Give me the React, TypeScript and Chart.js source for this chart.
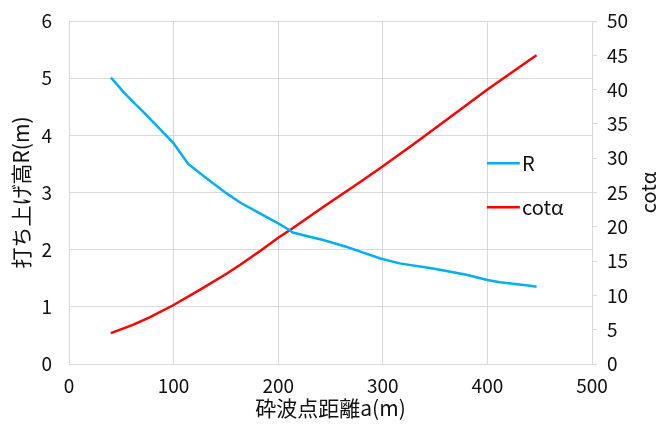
import React, { useEffect, useRef } from "react";
import { Chart, registerables } from "chart.js";

Chart.register(...registerables);

// Series R (left axis): distance a (m) and run-up height R (m)
const rDistance = [40, 44, 52, 61, 71, 87, 100, 114, 132, 151, 164, 179, 200, 211, 214, 234, 243, 265, 278, 297, 316, 348, 380, 400, 412, 441, 447];
const rValues = [5.01, 4.93, 4.76, 4.59, 4.41, 4.11, 3.86, 3.5, 3.24, 2.98, 2.82, 2.67, 2.46, 2.34, 2.3, 2.21, 2.17, 2.05, 1.97, 1.85, 1.76, 1.67, 1.56, 1.47, 1.43, 1.37, 1.35];

// Series cotα (right axis)
const cotDistance = [40, 61, 77, 100, 125, 151, 163, 183, 200, 211, 243, 278, 297, 329, 361, 400, 441, 447];
const cotValues = [4.5, 5.7, 6.8, 8.6, 10.8, 13.2, 14.4, 16.5, 18.4, 19.5, 22.9, 26.5, 28.5, 32.0, 35.6, 40.0, 44.4, 45.0];

const seriesLabels = ["R", "cotα"];
const seriesColors = ["#00B0F0", "#FF0000"];

const xTitle = "砕波点距離a(m)";
const yLeftTitle = "打ち上げ高R(m)";
const yRightTitle = "cotα";

const FONT = "'Noto Sans CJK JP', 'Noto Sans', sans-serif";
const TEXT = "#111111";
const GRID = "#d9d9d9";

export default function App() {
  const ref = useRef<HTMLCanvasElement>(null);

  useEffect(() => {
    if (!ref.current) return;

    const overlay = {
      id: "overlay",
      afterDraw(chart: any) {
        const { ctx, chartArea } = chart;
        const w = chartArea.right - chartArea.left;
        const h = chartArea.bottom - chartArea.top;
        ctx.save();
        ctx.font = `20px ${FONT}`;
        ctx.fillStyle = TEXT;
        ctx.textBaseline = "middle";
        ctx.textAlign = "left";
        const ys = [0.4145, 0.5427];
        seriesLabels.forEach((lab, i) => {
          const y = chartArea.top + ys[i] * h;
          ctx.strokeStyle = seriesColors[i];
          ctx.lineWidth = 2.5;
          ctx.beginPath();
          ctx.moveTo(chartArea.left + 0.799 * w, y);
          ctx.lineTo(chartArea.left + 0.862 * w, y);
          ctx.stroke();
          ctx.fillText(lab, chartArea.left + 0.866 * w, y);
        });
        // right axis title, reading bottom to top
        ctx.translate(chart.width - 8, chartArea.top + h / 2);
        ctx.rotate(-Math.PI / 2);
        ctx.textAlign = "center";
        ctx.fillText(yRightTitle, 0, 0);
        ctx.restore();
      },
    };

    const noVPad = (s: any) => {
      s.paddingTop = 0;
      s.paddingBottom = 0;
    };

    const chart = new Chart(ref.current, {
      type: "line",
      data: {
        datasets: [
          {
            label: seriesLabels[0],
            data: rDistance.map((x, i) => ({ x, y: rValues[i] })),
            yAxisID: "y",
            borderColor: seriesColors[0],
            borderWidth: 2.5,
            pointRadius: 0,
            tension: 0,
            fill: false,
          },
          {
            label: seriesLabels[1],
            data: cotDistance.map((x, i) => ({ x, y: cotValues[i] })),
            yAxisID: "y1",
            borderColor: seriesColors[1],
            borderWidth: 2.5,
            pointRadius: 0,
            tension: 0,
            fill: false,
          },
        ],
      },
      options: {
        animation: false,
        responsive: false,
        maintainAspectRatio: false,
        layout: { padding: { top: 13, left: 0, right: 0, bottom: 0 } },
        plugins: { legend: { display: false }, tooltip: { enabled: false } },
        scales: {
          x: {
            type: "linear",
            min: 0,
            max: 500,
            ticks: { stepSize: 100, padding: 10, color: TEXT, font: { family: FONT, size: 19 } },
            grid: { color: GRID, drawTicks: false },
            border: { color: GRID },
            title: {
              display: true,
              text: xTitle,
              color: TEXT,
              font: { family: FONT, size: 21 },
              padding: { top: 0, bottom: 7 },
            },
            afterFit: (s: any) => {
              s.height = 64;
            },
          },
          y: {
            type: "linear",
            position: "left",
            min: 0,
            max: 6,
            ticks: { stepSize: 1, padding: 17, color: TEXT, font: { family: FONT, size: 19 } },
            grid: { color: GRID, drawTicks: false },
            border: { color: GRID },
            title: {
              display: true,
              text: yLeftTitle,
              color: TEXT,
              font: { family: FONT, size: 21 },
              padding: { top: 0, bottom: 0 },
            },
            afterFit: (s: any) => {
              s.width = 61;
              noVPad(s);
            },
          },
          y1: {
            type: "linear",
            position: "right",
            min: 0,
            max: 50,
            ticks: { stepSize: 5, padding: 10, color: TEXT, font: { family: FONT, size: 19 } },
            grid: { color: GRID, drawOnChartArea: false, drawTicks: true, tickLength: 5 },
            border: { color: GRID },
            afterFit: (s: any) => {
              s.width = 64;
              noVPad(s);
            },
          },
        },
      },
      plugins: [overlay],
    });

    return () => chart.destroy();
  }, []);

  return (
    <div style={{ width: 648, height: 420, marginBottom: -8 }}>
      <canvas ref={ref} width={648} height={420} style={{ display: "block" }} />
    </div>
  );
}
